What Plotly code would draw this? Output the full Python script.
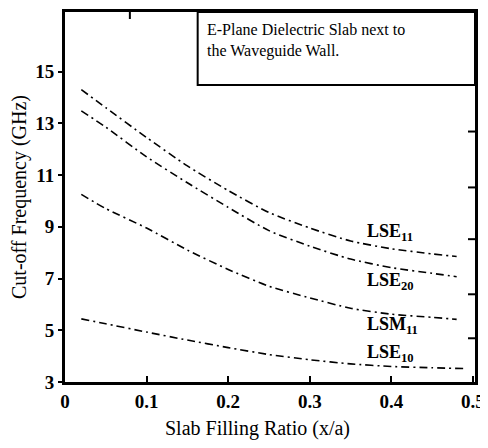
import plotly.graph_objects as go

ratio = [0.02, 0.05, 0.10, 0.15, 0.20, 0.25, 0.30, 0.35, 0.40, 0.45, 0.48]
lse11 = [14.30, 13.60, 12.45, 11.35, 10.40, 9.55, 8.95, 8.45, 8.15, 7.95, 7.85]
lse20 = [13.48, 12.85, 11.70, 10.70, 9.75, 8.85, 8.25, 7.75, 7.42, 7.20, 7.07]
lsm11 = [10.25, 9.70, 8.95, 8.10, 7.35, 6.70, 6.25, 5.85, 5.62, 5.50, 5.42]
ratio10 = [0.02, 0.05, 0.10, 0.15, 0.20, 0.25, 0.30, 0.35, 0.40, 0.45, 0.49]
lse10 = [5.44, 5.25, 4.93, 4.62, 4.33, 4.06, 3.86, 3.70, 3.60, 3.55, 3.52]

series = [
    (ratio, lse11, "LSE<sub>11</sub>", 8.76),
    (ratio, lse20, "LSE<sub>20</sub>", 6.90),
    (ratio, lsm11, "LSM<sub>11</sub>", 5.20),
    (ratio10, lse10, "LSE<sub>10</sub>", 4.12),
]
label_x = 0.368

x_ticks = [0, 0.1, 0.2, 0.3, 0.4, 0.5]
x_tick_text = ["0", "0.1", "0.2", "0.3", "0.4", "0.5"]
y_ticks = [3, 5, 7, 9, 11, 13, 15]
top_ticks = [0.0795]
right_ticks = [12.68, 10.52, 8.52, 6.39, 4.69]

x_range = [0, 0.5025]
y_range = [3, 17.3]

serif = "Liberation Serif"

fig = go.Figure()
for xs, ys, name, ly in series:
    fig.add_trace(go.Scatter(
        x=xs, y=ys, mode="lines", name=name, showlegend=False,
        line=dict(color="black", width=1.6, dash="8px,4px,2px,4px",
                  shape="spline", smoothing=0.6),
    ))
    fig.add_annotation(
        x=label_x, y=ly, text="<b>" + name + "</b>", showarrow=False,
        xanchor="left", yanchor="middle",
        font=dict(family=serif, size=18, color="black"),
    )

# ticks on the top and right edges of the frame
x_len = x_range[1] - x_range[0]
y_len = y_range[1] - y_range[0]
for t in top_ticks:
    fig.add_shape(type="line", xref="x", yref="y", x0=t, x1=t,
                  y0=y_range[1], y1=y_range[1] - y_len * 7 / 370,
                  line=dict(color="black", width=2))
for t in right_ticks:
    fig.add_shape(type="line", xref="x", yref="y", x0=x_range[1],
                  x1=x_range[1] - x_len * 7 / 410, y0=t, y1=t,
                  line=dict(color="black", width=2))

# text box
fig.add_shape(type="rect", xref="x", yref="y", x0=0.1626, x1=x_range[1],
              y0=14.48, y1=y_range[1], line=dict(color="black", width=2),
              fillcolor="white", layer="above")
fig.add_annotation(
    xref="paper", yref="paper", x=(205 - 65) / 410, y=1 - (19 - 12) / 370,
    xanchor="left", yanchor="top", align="left", showarrow=False,
    text="E-Plane Dielectric Slab next to<br>the Waveguide Wall.",
    font=dict(family=serif, size=16, color="black"),
)

# x-axis title placed below the tick labels
fig.add_annotation(
    xref="paper", yref="paper", x=0.47, y=-46 / 370,
    xanchor="center", yanchor="middle", showarrow=False,
    text="Slab Filling Ratio (x/a)",
    font=dict(family=serif, size=20, color="black"),
)

fig.update_layout(
    width=472, height=432,
    margin=dict(l=57, r=5, t=4, b=58),
    paper_bgcolor="white", plot_bgcolor="white",
    font=dict(family=serif, color="black"),
    xaxis=dict(
        range=x_range, tickvals=x_ticks, ticktext=["<b>%s</b>" % t for t in x_tick_text],
        ticks="inside", ticklen=6, tickwidth=2, tickcolor="black",
        showline=True, linecolor="black", linewidth=3, showgrid=False,
        zeroline=False, ticklabeloverflow="allow", mirror=True,
        automargin=False,
        tickfont=dict(family=serif, size=19, color="black"),
    ),
    yaxis=dict(
        range=y_range, tickvals=y_ticks,
        ticktext=["<b>%d</b>" % t for t in y_ticks],
        ticks="outside", ticklen=4, tickwidth=2, tickcolor="black",
        showline=True, linecolor="black", linewidth=3, showgrid=False,
        zeroline=False, mirror=True, automargin=False,
        tickfont=dict(family=serif, size=19, color="black"),
        title=dict(text="Cut-off Frequency (GHz)", standoff=6,
                   font=dict(family=serif, size=20, color="black")),
    ),
)

fig.write_html("out.html")
